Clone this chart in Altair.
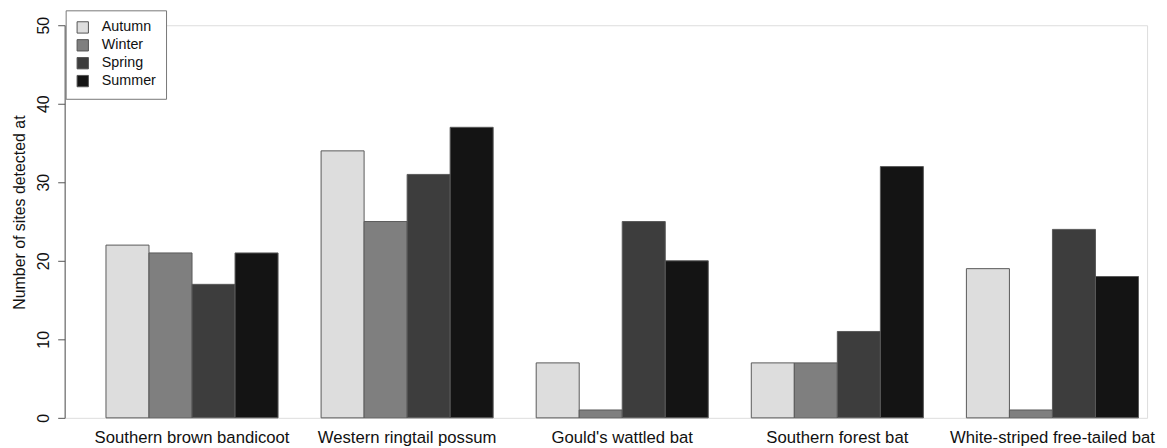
import altair as alt
import pandas as pd

species = ["Southern brown bandicoot", "Western ringtail possum", "Gould's wattled bat",
           "Southern forest bat", "White-striped free-tailed bat"]
seasons = ["Autumn", "Winter", "Spring", "Summer"]
autumn = [22, 34, 7, 7, 19]
winter = [21, 25, 1, 7, 1]
spring = [17, 31, 25, 11, 24]
summer = [21, 37, 20, 32, 18]
season_colors = ["#DDDDDD", "#7F7F7F", "#3D3D3D", "#141414"]
y_ticks = [0, 10, 20, 30, 40, 50]

rows = []
for s_name, vals in zip(seasons, [autumn, winter, spring, summer]):
    for sp, v in zip(species, vals):
        rows.append({"species": sp, "season": s_name, "sites": v})
df = pd.DataFrame(rows)

FONT = "Liberation Sans"

chart = alt.Chart(df).mark_bar(stroke="#5a5a5a", strokeWidth=1).encode(
    x=alt.X("species:N", sort=species,
            scale=alt.Scale(paddingInner=0.2, paddingOuter=0.116, align=0.828),
            axis=alt.Axis(title=None, labelAngle=0, labelFontSize=16.8, labelFont=FONT,
                          labelColor="#111111", ticks=False, tickSize=0, domain=False,
                          labelPadding=25, labelBaseline="alphabetic",
                          labelOverlap=False, labelLimit=0)),
    xOffset=alt.XOffset("season:N", sort=seasons,
                        scale=alt.Scale(paddingInner=0, paddingOuter=0)),
    y=alt.Y("sites:Q", scale=alt.Scale(domain=[0, 50], nice=False, zero=True),
            axis=alt.Axis(values=y_ticks, grid=False, title="Number of sites detected at",
                          titleFont=FONT, titleFontSize=16, titleFontWeight="normal",
                          titleColor="#111111", titleAngle=270, titleAlign="center",
                          titleBaseline="alphabetic", titleX=-40, titleY=188,
                          labelAngle=270, labelAlign="center", labelBaseline="alphabetic",
                          labelFont=FONT, labelFontSize=16, labelColor="#111111",
                          tickSize=7, labelPadding=9, tickColor="#555555",
                          domainColor="#555555")),
    color=alt.Color("season:N", sort=seasons,
                    scale=alt.Scale(domain=seasons, range=season_colors),
                    legend=alt.Legend(title=None, orient="none", legendX=1, legendY=-15,
                                      direction="vertical",
                                      strokeColor="#777777", fillColor="white",
                                      padding=10, symbolType="square", symbolSize=130,
                                      symbolStrokeColor="#555555", symbolStrokeWidth=1,
                                      symbolOpacity=1,
                                      labelFont=FONT, labelFontSize=14.4, labelColor="#111111",
                                      labelOffset=12, rowPadding=2)),
).properties(
    width=1089, height=395,
    autosize=alt.AutoSizeParams(type="none"),
    padding={"left": 57, "top": 16, "right": 12, "bottom": 29},
).configure_view(stroke=None).configure(background="white")

chart.save("out.html", embed_options={"renderer": "svg", "actions": False})
